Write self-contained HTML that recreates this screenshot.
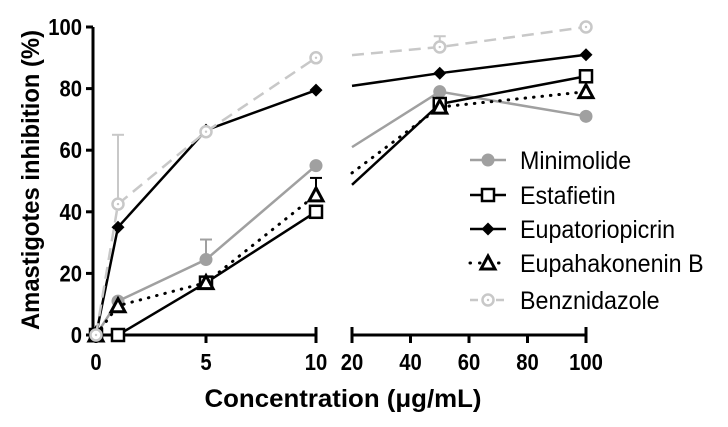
<!DOCTYPE html>
<html><head><meta charset="utf-8"><style>
body{margin:0;background:#fff}
svg text{font-family:"Liberation Sans",sans-serif}
</style></head><body>
<svg id="chart" width="728" height="422" xmlns="http://www.w3.org/2000/svg"></svg>
<script>
const xs = [0, 1, 5, 10, 50, 100];
const seriesNames = ["Minimolide","Estafietin","Eupatoriopicrin","Eupahakonenin B","Benznidazole"];
const minimolide = [0, 11, 24.5, 55, 79, 71];
const estafietin = [0, 0, 17, 40, 75, 84];
const eupatoriopicrin = [0, 35, 66.5, 79.5, 85, 91];
const eupahakonenin = [0, 9.5, 17, 45.5, 74, 79];
const benznidazole = [0, 42.5, 66, 90, 93.5, 100];
const errMinimolide = [0, 0, 31, 0, 0, 0];
const errEupahakonenin = [0, 0, 0, 51, 0, 0];
const errBenznidazole = [0, 65, 0, 0, 97, 0];
const yTicks = [0, 20, 40, 60, 80, 100];
const xTicksLeft = [0, 5, 10];
const xTicksRight = [20, 40, 60, 80, 100];

const NS="http://www.w3.org/2000/svg";
const svg=document.getElementById('chart');
function el(t,a,p){const e=document.createElementNS(NS,t);for(const k in a)e.setAttribute(k,a[k]);(p||svg).appendChild(e);return e;}
function squeeze(e,f){const w=e.getComputedTextLength();e.setAttribute('textLength',w*f);e.setAttribute('lengthAdjust','spacingAndGlyphs');}
const yS=v=>335-v*3.08;
const xL=v=>96+v*22;
const xR=v=>352+(v-20)*(234/80);
const xAny=v=>v<=10?xL(v):xR(v);

let g=el('g',{});
el('line',{x1:93,y1:yS(0),x2:93,y2:yS(100),stroke:'#000','stroke-width':3},g);
yTicks.forEach(t=>{
 el('line',{x1:86,y1:yS(t),x2:93,y2:yS(t),stroke:'#000','stroke-width':3},g);
 const tx=el('text',{x:82,y:yS(t)+8,'text-anchor':'end','font-size':23,'font-weight':'bold'},g);tx.textContent=t;
 
 squeeze(tx,0.88);
});
g=el('g',{});
el('line',{x1:93,y1:335,x2:xL(10),y2:335,stroke:'#000','stroke-width':3},g);
xTicksLeft.forEach(t=>{
 el('line',{x1:xL(t),y1:335,x2:xL(t),y2:343,stroke:'#000','stroke-width':3},g);
 if(t===10)el('line',{x1:xL(t),y1:327,x2:xL(t),y2:343,stroke:'#000','stroke-width':3},g);
 const tx=el('text',{x:xL(t),y:370,'text-anchor':'middle','font-size':23,'font-weight':'bold'},g);tx.textContent=t;
 
 squeeze(tx,0.88);
});
g=el('g',{});
el('line',{x1:xR(20),y1:335,x2:xR(100),y2:335,stroke:'#000','stroke-width':3},g);
xTicksRight.forEach(t=>{
 el('line',{x1:xR(t),y1:(t===20||t===100)?327:335,x2:xR(t),y2:343,stroke:'#000','stroke-width':3},g);
 const tx=el('text',{x:xR(t),y:370,'text-anchor':'middle','font-size':23,'font-weight':'bold'},g);tx.textContent=t;
 
 squeeze(tx,0.88);
});
let t=el('text',{x:343,y:407,'text-anchor':'middle','font-size':25,'font-weight':'bold'});
t.textContent='Concentration (μg/mL)';
t.setAttribute('textLength',277);t.setAttribute('lengthAdjust','spacingAndGlyphs');
t=el('text',{x:0,y:0,'text-anchor':'middle','font-size':25,'font-weight':'bold',transform:'translate(39,180) rotate(-90)'});
t.textContent='Amastigotes inhibition (%)';
t.setAttribute('textLength',300);t.setAttribute('lengthAdjust','spacingAndGlyphs');

const styles=[
 {vals:minimolide,err:errMinimolide,color:'#a0a0a0',dash:null,marker:'circle'},
 {vals:estafietin,err:null,color:'#000',dash:null,marker:'square'},
 {vals:eupatoriopicrin,err:null,color:'#000',dash:null,marker:'diamond'},
 {vals:eupahakonenin,err:errEupahakonenin,color:'#000',dash:'0.5 8',marker:'triangle'},
 {vals:benznidazole,err:errBenznidazole,color:'#c8c8c8',dash:'12 7',marker:'ocircle'}
];
function marker(type,x,y,color,p){
 if(type==='circle')el('circle',{cx:x,cy:y,r:6.5,fill:color},p);
 if(type==='square')el('rect',{x:x-6,y:y-6,width:12,height:12,fill:'#fff',stroke:color,'stroke-width':2.5},p);
 if(type==='diamond')el('path',{d:`M${x} ${y-6.5}L${x+6.5} ${y}L${x} ${y+6.5}L${x-6.5} ${y}Z`,fill:color},p);
 if(type==='triangle')el('path',{d:`M${x} ${y-7}L${x+7} ${y+6}L${x-7} ${y+6}Z`,fill:'#fff',stroke:color,'stroke-width':3},p);
 if(type==='ocircle'){el('circle',{cx:x,cy:y,r:5.5,fill:'#fff',stroke:color,'stroke-width':2.5},p);el('circle',{cx:x,cy:y,r:1.2,fill:color},p);}
}
styles.forEach((s,i)=>{
 const sg=el('g',{});
 const pts=xs.map((x,j)=>[xAny(x),yS(s.vals[j])]);
 const lp=xs.map((x,j)=>x<=10?[xL(x),yS(s.vals[j])]:null).filter(Boolean);
 const v20=s.vals[3]+(s.vals[4]-s.vals[3])*(10/40);
 const rp=[[xR(20),yS(v20)],[xR(50),yS(s.vals[4])],[xR(100),yS(s.vals[5])]];
 [lp,rp].forEach(arr=>{
  const a={points:arr.map(p=>p.join(',')).join(' '),fill:'none',stroke:s.color,'stroke-width':s.dash==='0.5 8'?3:2.5};
  if(s.dash){a['stroke-dasharray']=s.dash;if(s.dash==='0.5 8')a['stroke-linecap']='round';}
  el('polyline',a,sg);
 });
 if(s.err)s.err.forEach((e,j)=>{if(e){const x=xAny(xs[j]);el('line',{x1:x,y1:yS(s.vals[j]),x2:x,y2:yS(e),stroke:s.color,'stroke-width':2},sg);el('line',{x1:x-6,y1:yS(e),x2:x+6,y2:yS(e),stroke:s.color,'stroke-width':2},sg);}});
 pts.forEach(p=>marker(s.marker,p[0],p[1],s.color,sg));
});
const ly=[160,195,229,263,300];
styles.forEach((s,i)=>{
 const lg=el('g',{});
 const a={x1:470,y1:ly[i],x2:506,y2:ly[i],stroke:s.color,'stroke-width':s.dash==='0.5 8'?3:2.5};
 if(s.dash){a['stroke-dasharray']=s.dash==='0.5 8'?'0.5 9':'8 18';a['stroke-linecap']=s.dash==='0.5 8'?'round':'butt';}
 el('line',a,lg);
 marker(s.marker,488,ly[i],s.color,lg);
 const tx=el('text',{x:520,y:ly[i]+9,'font-size':25},lg);tx.textContent=seriesNames[i];
 squeeze(tx,0.93);
});
</script>
</body></html>
